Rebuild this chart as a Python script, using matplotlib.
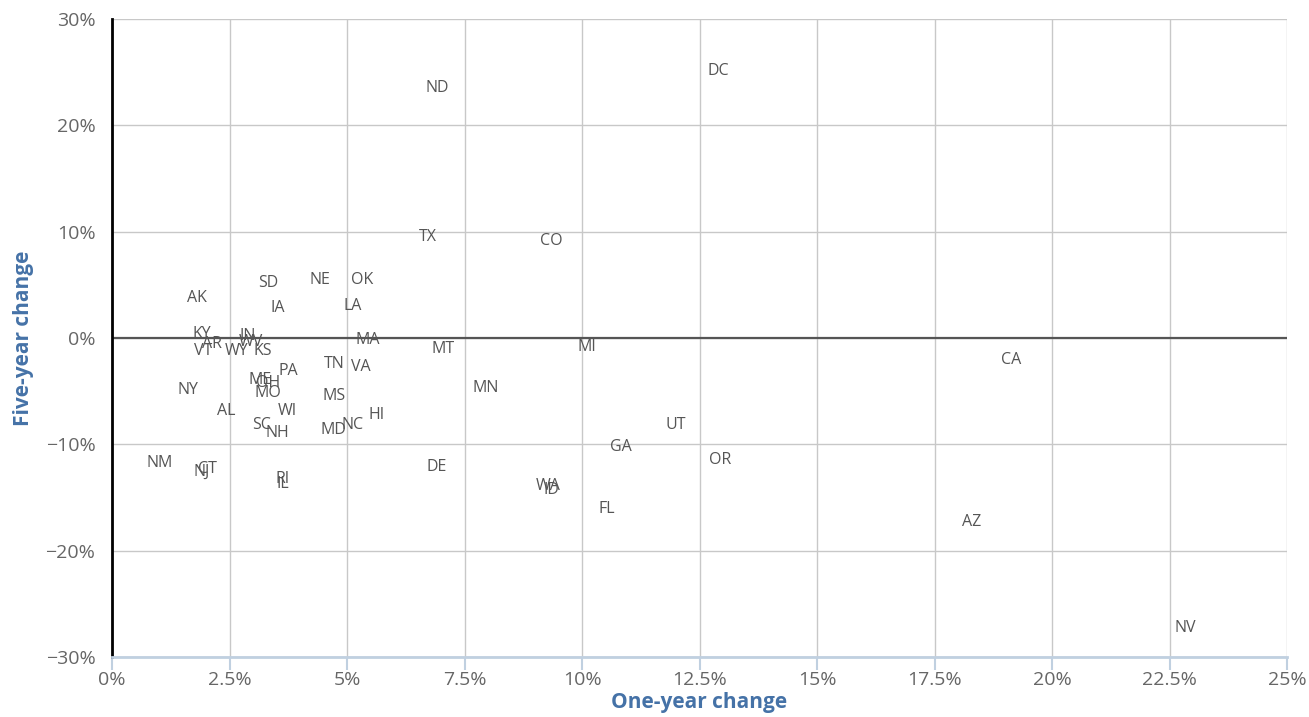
import numpy as np
import matplotlib.pyplot as plt
from matplotlib.ticker import FuncFormatter

# state, one-year change (%), five-year change (%)
states = ['ND', 'DC', 'TX', 'CO', 'SD', 'NE', 'OK', 'AK', 'IA', 'LA',
          'KY', 'IN', 'WV', 'AR', 'VT', 'WY', 'KS', 'MA', 'MT', 'MI',
          'CA', 'TN', 'VA', 'PA', 'ME', 'OH', 'MO', 'NY', 'MN', 'MS',
          'AL', 'WI', 'HI', 'SC', 'NH', 'MD', 'NC', 'UT', 'GA', 'OR',
          'NM', 'CT', 'NJ', 'DE', 'RI', 'IL', 'WA', 'ID', 'FL', 'AZ', 'NV']
one_year = [6.91, 12.89, 6.72, 9.34, 3.32, 4.43, 5.32, 1.81, 3.53, 5.13,
            1.91, 2.89, 2.95, 2.13, 1.94, 2.66, 3.21, 5.43, 7.04, 10.1,
            19.13, 4.72, 5.30, 3.74, 3.15, 3.32, 3.32, 1.62, 7.94, 4.72,
            2.43, 3.72, 5.62, 3.19, 3.51, 4.72, 5.11, 12.0, 10.83, 12.94,
            1.02, 2.02, 1.91, 6.91, 3.62, 3.64, 9.28, 9.34, 10.53, 18.3, 22.83]
five_year = [23.8, 25.4, 9.8, 9.4, 5.4, 5.7, 5.7, 4.0, 3.1, 3.3,
             0.66, 0.47, -0.1, -0.3, -1.0, -0.94, -0.94, 0.1, -0.75, -0.56,
             -1.8, -2.2, -2.5, -2.8, -3.7, -3.95, -4.9, -4.6, -4.4, -5.2,
             -6.6, -6.6, -7.0, -7.9, -8.7, -8.4, -7.9, -7.9, -10.0, -11.2,
             -11.5, -12.1, -12.3, -11.9, -13.0, -13.5, -13.7, -14.0, -15.8, -17.0, -27.0]

x_ticks = np.arange(0, 25.01, 2.5)
y_ticks = np.arange(-30, 30.01, 10)

plt.rcParams['font.family'] = ['Open Sans', 'DejaVu Sans']

fig = plt.figure(figsize=(13.09, 7.17), dpi=100)
ax = fig.add_axes([0.0856, 0.0837, 0.8976, 0.8898])

for st, x, y in zip(states, one_year, five_year):
    ax.annotate(st, (x, y), xytext=(0, -2), textcoords='offset points',
                ha='center', va='center', fontsize=11.5, color='#555555')

ax.set_xlim(0, 25)
ax.set_ylim(-30, 30)
ax.set_xticks(x_ticks)
ax.set_yticks(y_ticks)

def pct(v, _):
    s = ('%g' % v) + '%'
    return s.replace('-', '\u2212')

ax.xaxis.set_major_formatter(FuncFormatter(pct))
ax.yaxis.set_major_formatter(FuncFormatter(pct))

ax.grid(True, color='#c8c8c8', linewidth=1)
ax.set_axisbelow(True)
ax.axhline(0, color='#555555', linewidth=1.6, zorder=1)

for s in ['top', 'right']:
    ax.spines[s].set_visible(False)
ax.spines['left'].set_color('black')
ax.spines['left'].set_linewidth(2)
ax.spines['bottom'].set_color('#c0d0e0')
ax.spines['bottom'].set_linewidth(2)

ax.tick_params(axis='x', length=9, width=1.5, color='#c0d0e0',
               labelsize=14, labelcolor='#666666', pad=1)
ax.tick_params(axis='y', length=0, labelsize=14, labelcolor='#666666', pad=12)

ax.set_xlabel('One-year change', fontsize=15, fontweight='bold', color='#4572a7', labelpad=2)
ax.set_ylabel('Five-year change', fontsize=15, fontweight='bold', color='#4572a7', labelpad=8)

fig.savefig('out.png', dpi=100)
